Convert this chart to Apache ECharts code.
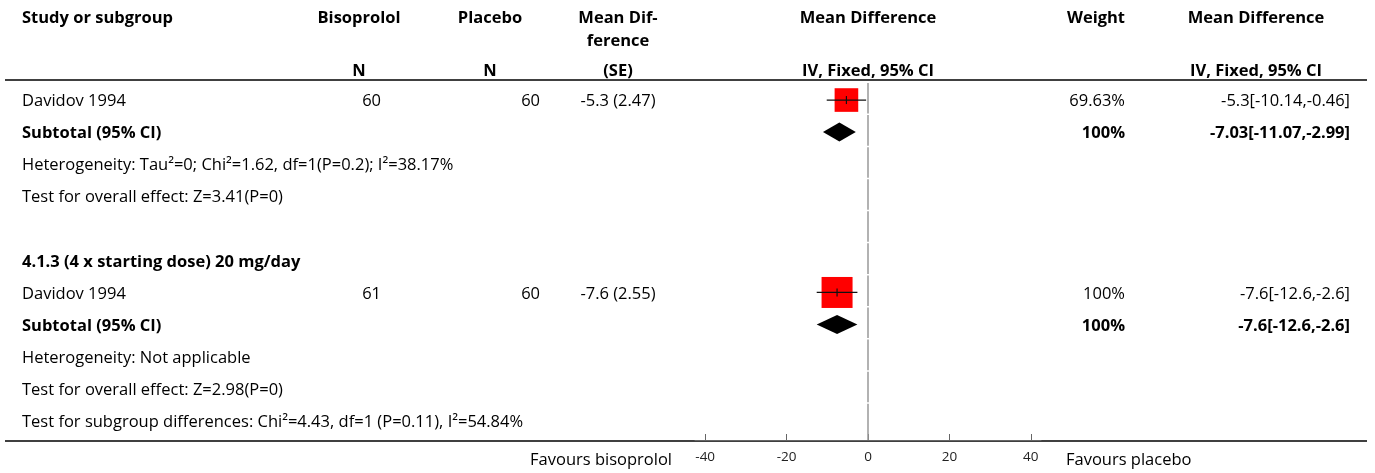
<!DOCTYPE html>
<html>
<head>
<meta charset="utf-8">
<script src="https://cdn.jsdelivr.net/npm/echarts@6/dist/echarts.min.js"></script>
<style>
  html, body { margin: 0; padding: 0; background: #fff; }
  #chart { width: 1375px; height: 473px; }
</style>
</head>
<body>
<div id="chart"></div>
<script>
// Table rows, top to bottom
const rowLabels = [
  'Davidov 1994',
  'Subtotal (95% CI)',
  'Heterogeneity: Tau\u00b2=0; Chi\u00b2=1.62, df=1(P=0.2); I\u00b2=38.17%',
  'Test for overall effect: Z=3.41(P=0)',
  '',
  '4.1.3 (4 x starting dose) 20 mg/day',
  'Davidov 1994',
  'Subtotal (95% CI)',
  'Heterogeneity: Not applicable',
  'Test for overall effect: Z=2.98(P=0)',
  'Test for subgroup differences: Chi\u00b2=4.43, df=1 (P=0.11), I\u00b2=54.84%'
];
const rowBold = [false, true, false, false, false, true, false, true, false, false, false];

// Individual studies
const studyRows = [0, 6];
const bisoprololN = [60, 61];
const placeboN = [60, 60];
const studyMD = [-5.3, -7.6];
const studySE = [2.47, 2.55];
const studyLow = [-10.14, -12.6];
const studyHigh = [-0.46, -2.6];
const studyWeight = [69.63, 100];

// Pooled subtotals
const subtotalRows = [1, 7];
const subtotalMD = [-7.03, -7.6];
const subtotalLow = [-11.07, -12.6];
const subtotalHigh = [-2.99, -2.6];
const subtotalWeight = [100, 100];

// Axis
const axisTicks = [-40, -20, 0, 20, 40];
const favoursLeft = 'Favours bisoprolol';
const favoursRight = 'Favours placebo';

const FONT = '"Open Sans", "Noto Sans", sans-serif';
const SIZE = 16.5;
const chart = echarts.init(document.getElementById('chart'));

function renderStudy(params, api) {
  const y = api.value(1);
  const c = api.coord([api.value(0), y]);
  const lo = api.coord([api.value(2), y]);
  const hi = api.coord([api.value(3), y]);
  const side = 31 * Math.pow(api.value(4) / 100, 0.75);
  return {
    type: 'group',
    children: [
      { type: 'rect', shape: { x: c[0] - side / 2, y: c[1] - side / 2, width: side, height: side },
        style: { fill: '#ff0000' } },
      { type: 'line', shape: { x1: lo[0], y1: c[1], x2: hi[0], y2: c[1] },
        style: { stroke: '#111', lineWidth: 1.3 } },
      { type: 'line', shape: { x1: c[0], y1: c[1] - 4, x2: c[0], y2: c[1] + 4 },
        style: { stroke: '#111', lineWidth: 1.2 } }
    ]
  };
}

function renderDiamond(params, api) {
  const y = api.value(1);
  const c = api.coord([api.value(0), y]);
  const lo = api.coord([api.value(2), y]);
  const hi = api.coord([api.value(3), y]);
  const h = 9.5;
  return {
    type: 'polygon',
    shape: { points: [[lo[0], c[1]], [c[0], c[1] - h], [hi[0], c[1]], [c[0], c[1] + h]] },
    style: { fill: '#000' }
  };
}

// vertical line of no effect, broken at each row boundary
function renderZero(params, api) {
  const r = api.value(1);
  const last = params.dataIndex === rowLabels.length - 1;
  const top = api.coord([0, r - 0.5]);
  const bot = api.coord([0, last ? 10.6 : r + 0.5]);
  return {
    type: 'line',
    shape: { x1: top[0], y1: top[1] - 1, x2: top[0], y2: bot[1] - (last ? 0 : 2.5) },
    style: { stroke: '#999', lineWidth: 1.5 }
  };
}

chart.setOption({
  animation: false,
  grid: { left: 695, right: 334, top: 84, bottom: 33 },
  xAxis: {
    type: 'value', min: -42.5, max: 42.5, position: 'bottom',
    axisLine: { show: true, onZero: false, lineStyle: { color: '#666', width: 1 } },
    axisTick: { show: true, inside: true, length: 6, customValues: axisTicks, lineStyle: { color: '#666' } },
    axisLabel: { customValues: axisTicks, fontSize: 13.5, color: '#222', fontFamily: FONT, margin: 10 },
    splitLine: { show: false }
  },
  yAxis: { type: 'value', min: -0.5, max: 10.6, inverse: true, show: false },
  series: [
    {
      type: 'custom', renderItem: renderZero, silent: true, z: 1,
      encode: { x: 0, y: 1 },
      data: rowLabels.map((_, i) => [0, i])
    },
    {
      type: 'custom', renderItem: renderStudy, z: 3,
      encode: { x: [0, 2, 3], y: 1 },
      data: studyRows.map((r, i) => [studyMD[i], r, studyLow[i], studyHigh[i], studyWeight[i]])
    },
    {
      type: 'custom', renderItem: renderDiamond, z: 3,
      encode: { x: [0, 2, 3], y: 1 },
      data: subtotalRows.map((r, i) => [subtotalMD[i], r, subtotalLow[i], subtotalHigh[i], subtotalWeight[i]])
    }
  ]
});

const TEXT_DY = 1.5;
function txt(text, x, y, align, bold, size) {
  const f = (bold ? 'bold ' : '') + (size || SIZE) + 'px ' + FONT;
  return {
    type: 'text', x: x, y: y + TEXT_DY, silent: true,
    style: { text: text, font: f, fill: '#000', textAlign: align, textVerticalAlign: 'middle',
             align: align, verticalAlign: 'middle' }
  };
}
function rowY(r) { return chart.convertToPixel({ yAxisIndex: 0 }, r); }
function ci(md, lo, hi) { return md + '[' + lo + ',' + hi + ']'; }

const COL = { label: 22, n1: 381, n1h: 359, n2: 540, n2h: 490, md: 618, plot: 868, w: 1125, wh: 1096, ci: 1350, cih: 1256 };
const els = [];

// header
els.push(txt('Study or subgroup', COL.label, 17, 'left', true));
els.push(txt('Bisoprolol', COL.n1h, 17, 'center', true));
els.push(txt('Placebo', COL.n2h, 17, 'center', true));
els.push(txt('Mean Dif-', COL.md, 17, 'center', true));
els.push(txt('ference', COL.md, 40, 'center', true));
els.push(txt('Mean Difference', COL.plot, 17, 'center', true));
els.push(txt('Weight', COL.wh, 17, 'center', true));
els.push(txt('Mean Difference', COL.cih, 17, 'center', true));
els.push(txt('N', COL.n1h, 70, 'center', true));
els.push(txt('N', COL.n2h, 70, 'center', true));
els.push(txt('(SE)', COL.md, 70, 'center', true));
els.push(txt('IV, Fixed, 95% CI', COL.plot, 70, 'center', true));
els.push(txt('IV, Fixed, 95% CI', COL.cih, 70, 'center', true));

// row labels
rowLabels.forEach((t, i) => { if (t) els.push(txt(t, COL.label, rowY(i), 'left', rowBold[i])); });

// study values
studyRows.forEach((r, i) => {
  const y = rowY(r);
  els.push(txt(String(bisoprololN[i]), COL.n1, y, 'right', false));
  els.push(txt(String(placeboN[i]), COL.n2, y, 'right', false));
  els.push(txt(studyMD[i] + ' (' + studySE[i] + ')', COL.md, y, 'center', false));
  els.push(txt(studyWeight[i] + '%', COL.w, y, 'right', false));
  els.push(txt(ci(studyMD[i], studyLow[i], studyHigh[i]), COL.ci, y, 'right', false));
});
subtotalRows.forEach((r, i) => {
  const y = rowY(r);
  els.push(txt(subtotalWeight[i] + '%', COL.w, y, 'right', true));
  els.push(txt(ci(subtotalMD[i], subtotalLow[i], subtotalHigh[i]), COL.ci, y, 'right', true));
});

// favours labels
const axisY = rowY(10.6);
els.push(txt(favoursLeft, 672, axisY + 19, 'right', false));
els.push(txt(favoursRight, 1066, axisY + 19, 'left', false));

// rules
els.push({ type: 'line', silent: true, shape: { x1: 5, y1: 80, x2: 1367, y2: 80 },
           style: { stroke: '#000', lineWidth: 1.5 } });
els.push({ type: 'line', silent: true, shape: { x1: 5, y1: axisY + 1, x2: 1367, y2: axisY + 1 },
           style: { stroke: '#000', lineWidth: 1.5 } });

chart.setOption({ graphic: { elements: els } });
</script>
</body>
</html>
